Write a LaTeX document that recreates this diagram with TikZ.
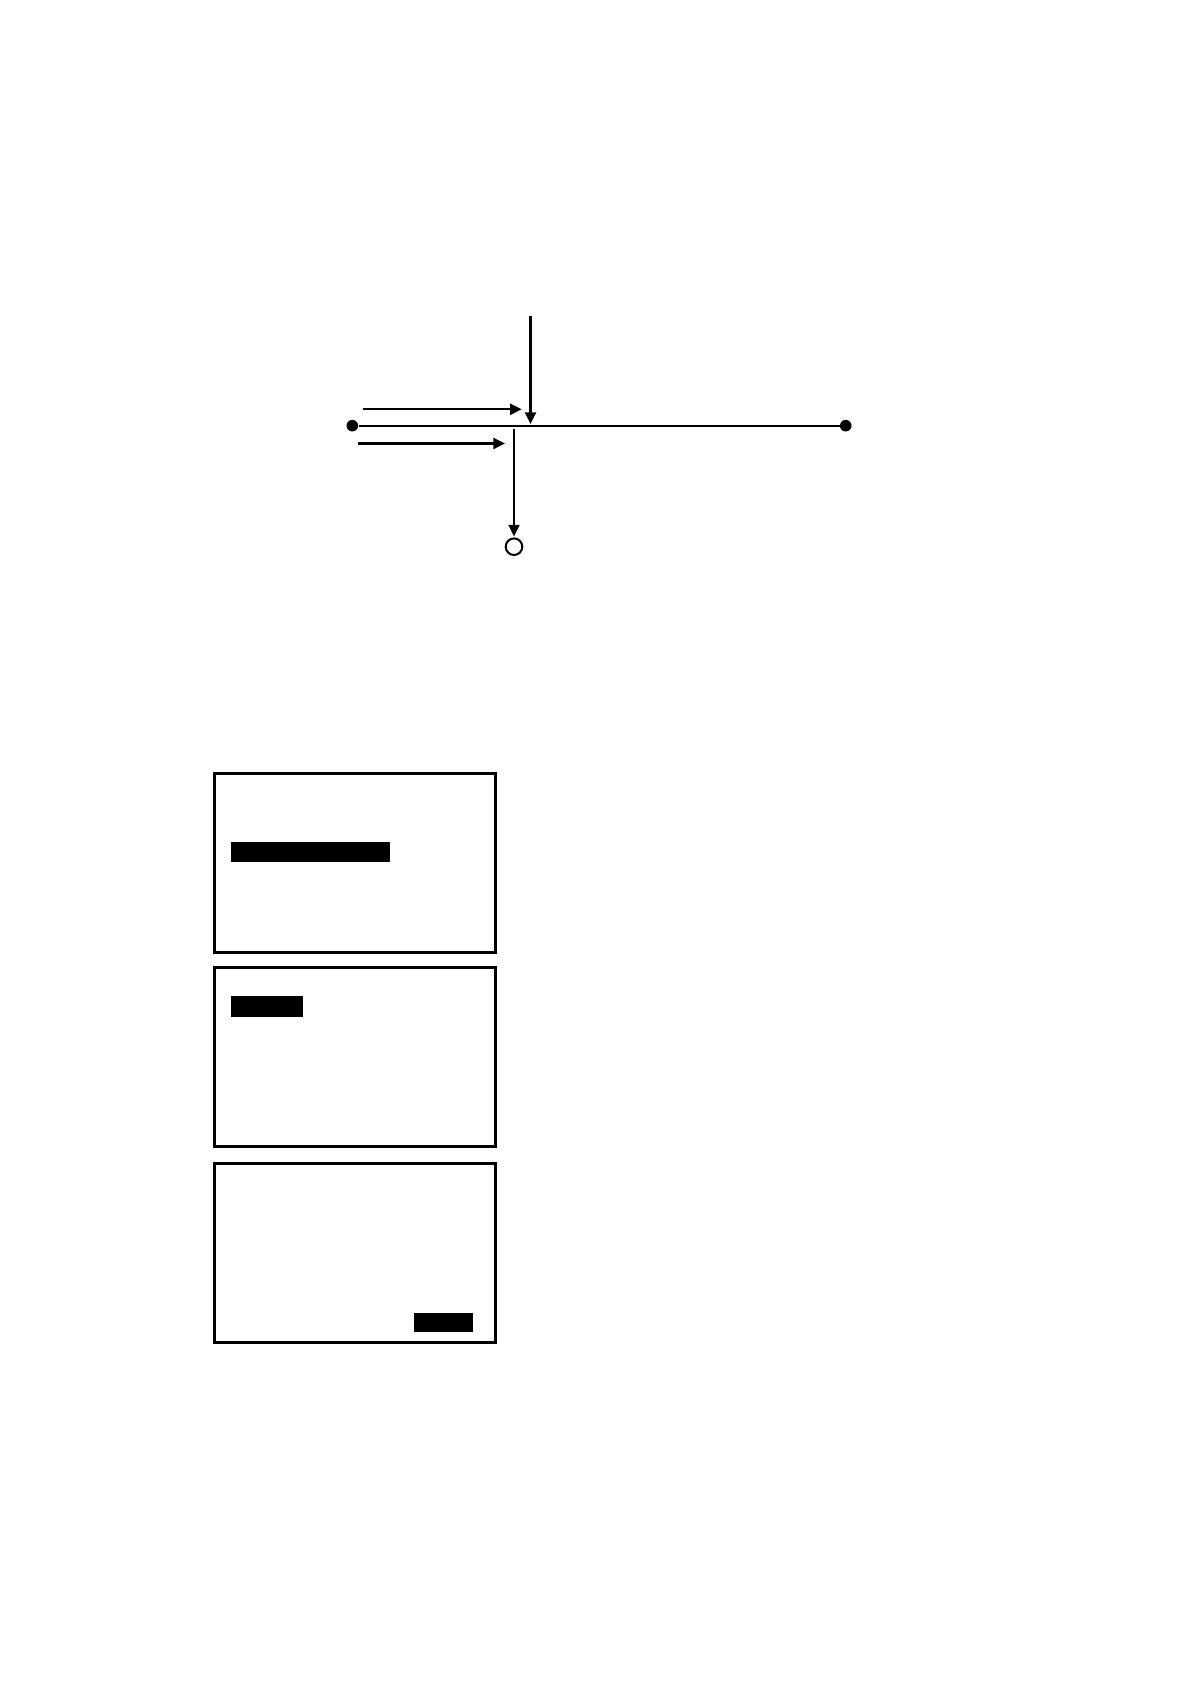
\documentclass[tikz,border=0pt]{standalone}
\usetikzlibrary{arrows.meta}
\begin{document}
\begin{tikzpicture}[x=0.5pt,y=-0.5pt,
  thinline/.style={line width=1.05pt},
  arr/.style={thinline,-{Triangle[length=5.8pt,width=5.5pt]}},
  dotnode/.style={circle,fill=black,inner sep=0pt,minimum size=5.8pt},
  opennode/.style={circle,draw,line width=1pt,inner sep=0pt,minimum size=8.3pt},
  screen/.style={draw,line width=1.5pt,inner sep=0pt,minimum width=140.3pt,minimum height=89.3pt},
  bar/.style={fill=black,inner sep=0pt}]
\useasboundingbox (0,0) rectangle (1190,1684);
% top diagram
\node[dotnode] (L) at (352.3,425.7) {};
\node[dotnode] (R) at (845.7,425.7) {};
\draw[thinline] (L) -- (R);
\coordinate (a1s) at (363.3,409.3);
\coordinate (a1e) at (521.7,409.3);
\draw[arr] (a1s) -- (a1e);
\coordinate (a2s) at (358.3,443.5);
\coordinate (a2e) at (505,443.5);
\draw[arr] (a2s) -- (a2e);
\coordinate (v1s) at (530.5,315.7);
\coordinate (v1e) at (530.5,424);
\draw[arr] (v1s) -- (v1e);
\node[opennode] (C) at (514,546.7) {};
\coordinate (v2s) at (514,429);
\draw[arr,shorten >=0.5pt] (v2s) -- (C);
% screens
\node[screen] (S1) at (355,863) {};
\node[screen] (S2) at (355,1056.8) {};
\node[screen] (S3) at (355,1253) {};
\node[bar,minimum width=79.5pt,minimum height=10pt] (B1) at (310.5,851.7) {};
\node[bar,minimum width=36pt,minimum height=10.5pt] (B2) at (267,1006.5) {};
\node[bar,minimum width=29.5pt,minimum height=9.5pt] (B3) at (443.5,1322.5) {};
\end{tikzpicture}
\end{document}
